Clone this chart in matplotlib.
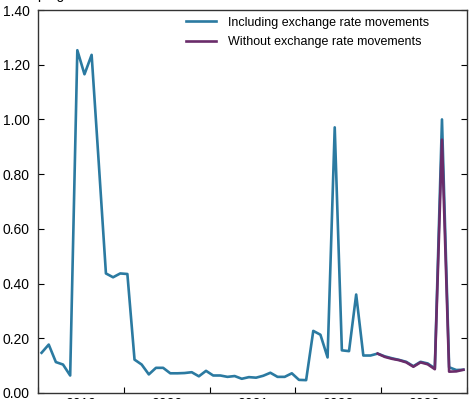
import matplotlib.pyplot as plt
import numpy as np

plt.rcParams['font.family'] = ['Liberation Sans', 'DejaVu Sans']

years = ['2019', '2020', '2021', '2022', '2023']

# monthly values, Jan of first year onwards
incl_fx = [0.147, 0.177, 0.113, 0.104, 0.064, 1.253, 1.165, 1.236, 0.84, 0.437,
           0.423, 0.437, 0.435, 0.122, 0.104, 0.068, 0.092, 0.092, 0.072, 0.072,
           0.073, 0.076, 0.061, 0.081, 0.064, 0.064, 0.059, 0.062, 0.052, 0.058,
           0.056, 0.063, 0.074, 0.059, 0.059, 0.072, 0.048, 0.047, 0.227, 0.213,
           0.130, 0.971, 0.156, 0.153, 0.360, 0.137, 0.137, 0.144, 0.134, 0.127,
           0.121, 0.114, 0.098, 0.114, 0.108, 0.090, 1.000, 0.094, 0.084, 0.085]

# only available from Dec of fourth year
excl_start = 47
excl_fx = [0.144, 0.132, 0.125, 0.120, 0.112, 0.096, 0.112, 0.105, 0.087, 0.926,
           0.078, 0.079, 0.085]

x_all = np.arange(len(incl_fx)) + 0.5
x_excl = np.arange(excl_start, excl_start + len(excl_fx)) + 0.5

fig = plt.figure(figsize=(4.76, 3.99), dpi=100)
ax = fig.add_axes([38 / 476, 6 / 399, 429 / 476, 383 / 399])

ax.plot(x_all, incl_fx, color='#2b7aa1', lw=1.9, label='Including exchange rate movements')
ax.plot(x_excl, excl_fx, color='#6a2c6a', lw=1.9, label='Without exchange rate movements')

ax.set_xlim(0, 60)
ax.set_ylim(0, 1.4)
ax.set_yticks(np.arange(0, 1.41, 0.2))
ax.set_yticklabels(['%.2f' % v for v in np.arange(0, 1.41, 0.2)], fontsize=10)
ax.tick_params(axis='y', direction='in', length=4, right=True, width=0.8, pad=6)

ax.set_xticks(np.arange(0, 61, 12))
ax.set_xticklabels([])
ax.set_xticks(np.arange(6, 60, 12), minor=True)
ax.set_xticklabels(years, minor=True, fontsize=10)
ax.tick_params(axis='x', which='major', direction='in', length=4, width=0.8)
ax.tick_params(axis='x', which='minor', length=0, pad=3)

for s in ax.spines.values():
    s.set_color('#333333')
    s.set_linewidth(1.0)

ax.legend(loc='upper right', bbox_to_anchor=(1.0 - 27 / 429, 1.012), frameon=False,
          fontsize=9, handlelength=2.4, handletextpad=0.95, labelspacing=0.62)

fig.text(29 / 476, 1.0 + 1 / 399, 'Rp/kg', fontsize=10, ha='left', va='baseline')

fig.savefig('out.png', dpi=100)
